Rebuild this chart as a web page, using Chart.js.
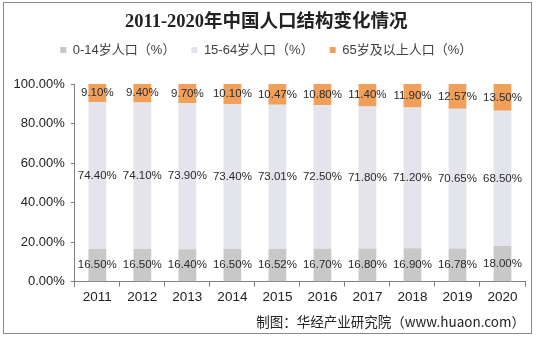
<!DOCTYPE html>
<html>
<head>
<meta charset="utf-8">
<script src="https://cdn.jsdelivr.net/npm/chart.js@4/dist/chart.umd.min.js"></script>
<style>
  html, body { margin: 0; padding: 0; background: #fff; }
  .frame {
    position: absolute; left: 3px; top: 2px;
    width: 527px; height: 330px;
    border: 1px solid #8a8a8a;
  }
</style>
</head>
<body>
<div class="frame"><canvas id="chart"></canvas></div>
<script>
// 2011-2020 population structure, percent of total
const years = ["2011", "2012", "2013", "2014", "2015", "2016", "2017", "2018", "2019", "2020"]
const age0to14 = [16.50, 16.50, 16.40, 16.50, 16.52, 16.70, 16.80, 16.90, 16.78, 18.00]
const age15to64 = [74.40, 74.10, 73.90, 73.40, 73.01, 72.50, 71.80, 71.20, 70.65, 68.50]
const age65plus = [9.10, 9.40, 9.70, 10.10, 10.47, 10.80, 11.40, 11.90, 12.57, 13.50]
const seriesNames = ["0-14岁人口（%）", "15-64岁人口（%）", "65岁及以上人口（%）"]
const yTicks = [0, 20, 40, 60, 80, 100]

const labelFont = "Liberation Sans, Arial, Noto Sans CJK SC, sans-serif"
const axisColor = "#808080"

// writes each segment's value in the middle of the segment
const segmentLabels = {
  id: "segmentLabels",
  afterDatasetsDraw(chart) {
    const ctx = chart.ctx
    ctx.save()
    ctx.font = "11.5px " + labelFont
    ctx.fillStyle = "#2a2a2a"
    ctx.textAlign = "center"
    ctx.textBaseline = "middle"
    chart.data.datasets.forEach((ds, i) => {
      chart.getDatasetMeta(i).data.forEach((bar, j) => {
        ctx.fillText(ds.data[j].toFixed(2) + "%", bar.x, (bar.y + bar.base) / 2)
      })
    })
    ctx.restore()
  },
}

const ctx = document.getElementById("chart").getContext("2d")
new Chart(ctx, {
  type: "bar",
  data: {
    labels: years,
    datasets: [
      { label: seriesNames[0], data: age0to14, backgroundColor: "#c8c8c8" },
      { label: seriesNames[1], data: age15to64, backgroundColor: "#e4e4ec" },
      { label: seriesNames[2], data: age65plus, backgroundColor: "#f1a05c" },
    ],
  },
  options: {
    responsive: true,
    maintainAspectRatio: false,
    animation: false,
    barPercentage: 0.79,
    categoryPercentage: 0.5,
    layout: { padding: { left: 3.5, right: 6, top: 0, bottom: 0 } },
    plugins: {
      title: {
        display: true,
        text: "2011-2020年中国人口结构变化情况",
        color: "#222",
        font: { family: "Liberation Serif, Noto Sans CJK SC, serif", size: 18.5, weight: "bold", lineHeight: 1.2 },
        padding: { top: 7.9, bottom: -5.6 },
      },
      legend: {
        display: true,
        labels: {
          boxWidth: 6,
          boxHeight: 6,
          padding: 16,
          color: "#404040",
          font: { family: labelFont, size: 13 },
        },
      },
      // empty strip between the legend and the plot
      subtitle: {
        display: true,
        position: "top",
        weight: 500,
        text: "",
        font: { size: 10, lineHeight: 1 },
        padding: { top: 0, bottom: 7.5 },
      },
      tooltip: { enabled: false },
    },
    scales: {
      x: {
        stacked: true,
        grid: { display: true, drawOnChartArea: false, drawTicks: true, tickLength: 5, color: axisColor },
        border: { display: true, color: axisColor },
        ticks: { color: "#222", font: { family: labelFont, size: 13.5, lineHeight: 1.2 }, padding: 2 },
        title: {
          display: true,
          align: "end",
          text: "制图：华经产业研究院（www.huaon.com）",
          color: "#222",
          font: { family: "Noto Sans CJK SC, sans-serif", size: 13.5, lineHeight: 1.2 },
          padding: { top: 7.3, bottom: 2.6 },
        },
      },
      y: {
        stacked: true,
        min: 0,
        max: 100,
        afterBuildTicks: (axis) => { axis.ticks = yTicks.map((v) => ({ value: v })) },
        grid: { display: true, drawOnChartArea: false, drawTicks: true, tickLength: 4, color: axisColor },
        border: { display: true, color: axisColor },
        ticks: {
          color: "#222",
          font: { family: labelFont, size: 13 },
          padding: 6,
          callback: (v) => v.toFixed(2) + "%",
        },
      },
    },
  },
  plugins: [segmentLabels],
})
</script>
</body>
</html>
